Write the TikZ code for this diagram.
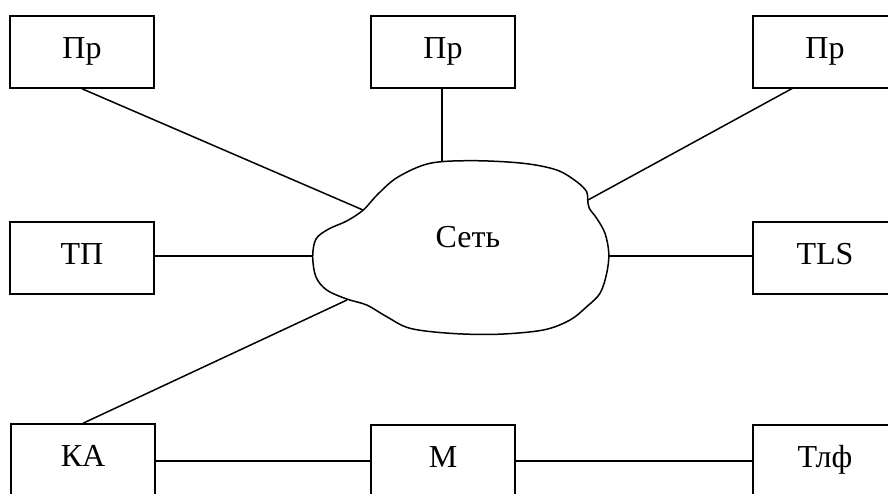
\documentclass[tikz,border=0pt]{standalone}
\usepackage{fontspec}
\setmainfont{Liberation Serif}
\begin{document}
\begin{tikzpicture}[x=1pt,y=-1pt,
  box/.style={draw,line width=1.5pt,rectangle,minimum width=144pt,minimum height=72pt,inner sep=0pt,
    font=\fontsize{32}{32}\selectfont,text height=21pt,text depth=9pt},
  wire/.style={line width=1.5pt}]
\useasboundingbox (0,0) rectangle (888,493);
% boxes
\node[box] (pr1) at (82,52) {Пр};
\node[box] (pr2) at (443,52) {Пр};
\node[box] (pr3) at (825,52) {Пр};
\node[box] (tp) at (82,258) {ТП};
\node[box] (tls) at (825,258) {TLS};
\node[box] (ka) at (83,460) {КА};
\node[box] (m) at (443,461) {М};
\node[box] (tlf) at (825,461) {Тлф};
% cloud
\draw[line width=1.5pt,fill=white] plot[smooth cycle,tension=0.55] coordinates {
 (363.3,210) (378,194) (398,177) (430,163.3) (473.3,160.7) (523.3,163.3) (556.7,170)
 (576.7,181.7) (586.7,191.7) (587.7,200) (589.3,208.3) (596.7,218.3) (605,233.3) (608.8,253.3)
 (606.7,273.3) (600,293.3) (586.7,306.7) (570,320) (543.3,330) (496.7,334.3) (450,333.3)
 (410,328.3) (386.7,316.7) (366.7,305) (346.7,299) (326.7,290) (316,277) (312.7,256.7)
 (316,239) (328.7,229) (346.7,221)};
\node[font=\fontsize{32}{32}\selectfont,anchor=base,inner sep=0pt] (net) at (468,247) {Сеть};
% cloud attachment points
\coordinate (cTL) at (363,210);
\coordinate (cT) at (442,161);
\coordinate (cTR) at (588,200);
\coordinate (cL) at (312.7,256);
\coordinate (cR) at (608.8,256);
\coordinate (cBL) at (347,300);
\coordinate (pr3s) at (793,88);
% connectors
\draw[wire] (pr1.south) -- (cTL);
\draw[wire] (pr2.south -| cT) -- (cT);
\draw[wire] (pr3s) -- (cTR);
\draw[wire] (tp.east |- cL) -- (cL);
\draw[wire] (cR) -- (tls.west |- cR);
\draw[wire] (ka.north) -- (cBL);
\draw[wire] (ka.east |- m.west) -- (m.west);
\draw[wire] (m.east) -- (tlf.west);
\end{tikzpicture}
\end{document}
